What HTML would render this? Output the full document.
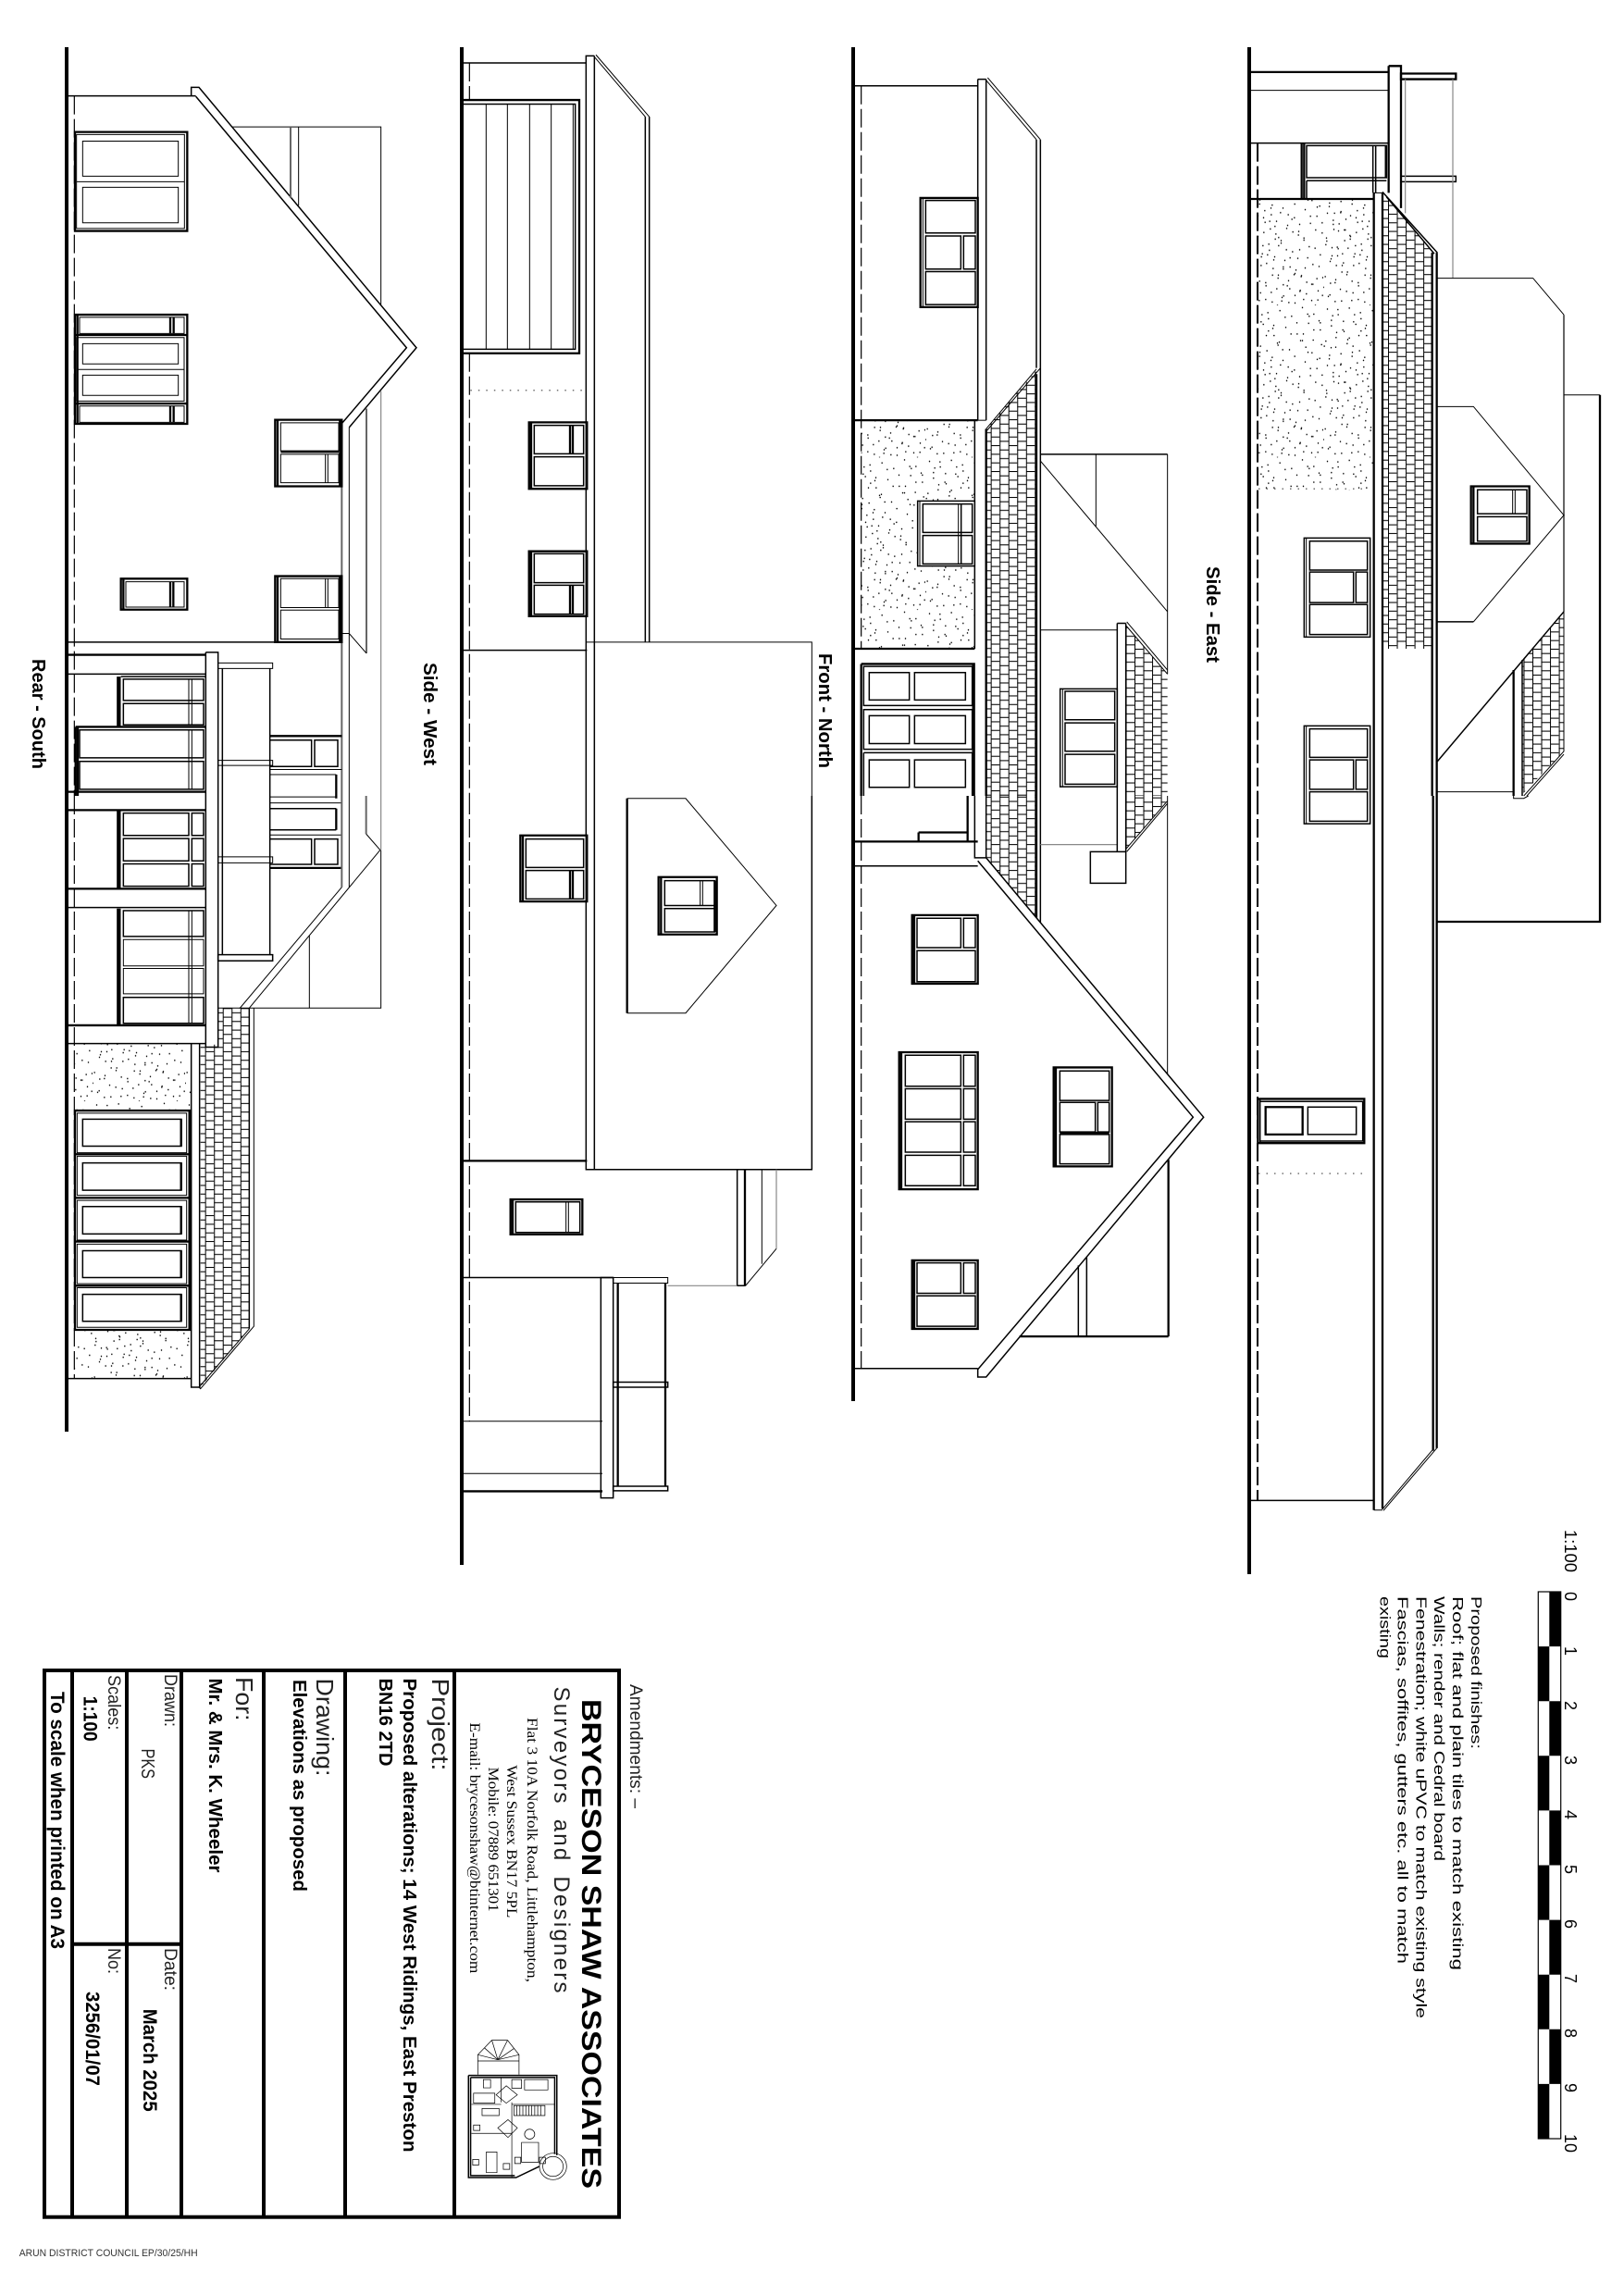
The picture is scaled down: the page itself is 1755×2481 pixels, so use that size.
<!DOCTYPE html>
<html><head><meta charset="utf-8"><title>Elevations as proposed</title>
<style>
html,body{margin:0;padding:0;background:#fff}
svg{display:block;position:absolute;left:0;top:0}
g.z path{fill:none;stroke:#000;stroke-width:1;vector-effect:non-scaling-stroke}
g.v path{stroke-width:.7}
g.z path.m{stroke-width:1.5}
g.z path.h{stroke-width:2.3}
g.z path.g{stroke:#666;stroke-width:2}
g.z path.l{stroke:#888;stroke-width:1.2}
g.z path.d{stroke-dasharray:20 5;stroke-width:1.2}
g.z path.dh{stroke-dasharray:20 5;stroke-width:2}
g.z path.o{stroke-dasharray:1.5 7;stroke-width:1.2;stroke:#444}
g.z path.s{fill:url(#st);stroke:none}
g.z path.w{fill:#fff}
text{font-family:"Liberation Sans",sans-serif;fill:#000}
.b{font-weight:bold}
.c{fill:#222}
.f{font-family:"Liberation Serif",serif}
</style></head><body>
<svg xmlns="http://www.w3.org/2000/svg" width="1755" height="2481" viewBox="0 0 1755 2481">
<defs>
<pattern id="b1" patternUnits="userSpaceOnUse" x="665" y="418" width="57.2" height="34"><rect x="0" y="0" width="3" height="34" fill="#000"/><rect x="28.6" y="0" width="3" height="34" fill="#000"/><rect x="0" y="0" width="28.6" height="1.9" fill="#000"/><rect x="0" y="17" width="28.6" height="1.9" fill="#000"/><rect x="28.6" y="8.5" width="28.6" height="1.9" fill="#000"/><rect x="28.6" y="25.5" width="28.6" height="1.9" fill="#000"/></pattern>
<pattern id="b2" href="#b1" x="512" y="10"/>
<pattern id="b3" href="#b1" x="978" y="20"/>
<pattern id="b4" href="#b1" x="510" y="30"/>
<pattern id="st" patternUnits="userSpaceOnUse" width="300" height="300"><path id="dots" fill="#000" stroke="#000" stroke-width=".8" d="M12 8h3v2h-3zM47 19h3v2h-3zM83 6h3v2h-3zM121 27h3v2h-3zM158 11h3v2h-3zM196 22h3v2h-3zM231 5h3v2h-3zM268 18h3v2h-3zM25 41h3v2h-3zM66 52h3v2h-3zM104 38h3v2h-3zM139 60h3v2h-3zM177 44h3v2h-3zM214 57h3v2h-3zM251 36h3v2h-3zM289 49h3v2h-3zM7 71h3v2h-3zM39 83h3v2h-3zM78 68h3v2h-3zM116 90h3v2h-3zM150 75h3v2h-3zM189 88h3v2h-3zM225 70h3v2h-3zM262 94h3v2h-3zM293 78h3v2h-3zM18 106h3v2h-3zM55 118h3v2h-3zM92 101h3v2h-3zM130 122h3v2h-3zM168 109h3v2h-3zM205 128h3v2h-3zM240 112h3v2h-3zM278 125h3v2h-3zM31 141h3v2h-3zM70 152h3v2h-3zM110 137h3v2h-3zM145 160h3v2h-3zM183 143h3v2h-3zM219 155h3v2h-3zM257 139h3v2h-3zM295 158h3v2h-3zM10 174h3v2h-3zM44 186h3v2h-3zM86 170h3v2h-3zM124 192h3v2h-3zM162 178h3v2h-3zM199 195h3v2h-3zM236 172h3v2h-3zM272 188h3v2h-3zM24 209h3v2h-3zM60 222h3v2h-3zM98 205h3v2h-3zM136 228h3v2h-3zM174 212h3v2h-3zM210 231h3v2h-3zM248 207h3v2h-3zM285 224h3v2h-3zM5 244h3v2h-3zM37 256h3v2h-3zM75 240h3v2h-3zM113 262h3v2h-3zM152 247h3v2h-3zM190 268h3v2h-3zM228 242h3v2h-3zM265 259h3v2h-3zM297 246h3v2h-3zM20 280h3v2h-3zM58 292h3v2h-3zM95 276h3v2h-3zM133 294h3v2h-3zM170 282h3v2h-3zM207 296h3v2h-3zM244 278h3v2h-3zM281 290h3v2h-3z"/><use href="#dots" transform="translate(17,13)"/><use href="#dots" transform="translate(-143,-79)"/><use href="#dots" transform="translate(157,221)"/><use href="#dots" transform="translate(-71,113)"/><use href="#dots" transform="translate(229,-187)"/></pattern>
</defs>
<rect width="1755" height="2481" fill="#fff"/>

<!-- ground bars -->
<rect x="70" y="51" width="4" height="1496" fill="#000"/>
<rect x="497" y="51" width="4" height="1640" fill="#000"/>
<rect x="920" y="51" width="4" height="1463" fill="#000"/>
<rect x="1348" y="51" width="4" height="1650" fill="#000"/>

<!-- Rear South upper -->
<g class="z" transform="translate(0,0) scale(.33333,.5485)">
<path class="m" d="M222 189H620M620 189V172H645L1350 685L1132 842M635 190L1318 685L1110 833M620 189H635"/>
<path class="d" d="M241 189V1568"/>
<path d="M752 250H1235V600M968 250V405"/><path class="g" d="M942 250V390M1188 805V1287M1108 833V1568"/>
<path class="l" d="M1235 770V1568"/>
<path d="M1188 1287L1132 1248H1108M1132 842V1568"/><path class="m" d="M222 1265H892"/>
<path class="h" d="M243 260H607V455H243Z"/><path d="M248 265H598V450H248ZM268 278H578V347H268ZM268 369H578V439H268ZM248 358H598"/>
<path class="h" d="M243 620H607V835H243ZM251 620V835M243 795H607M243 660H607M552 625V657M563 625V657M552 800V832M563 800V832"/>
<path d="M258 625H597V657H258ZM248 665H597V790H248ZM268 677H578V717H268ZM268 739H578V779H268ZM248 728H597M258 800H597V832H258Z"/>
<path class="h" d="M892 827H1108V958H892ZM900 827V958M1102 827V958M910 890H1098"/><path d="M910 833H1098V888H910ZM910 895H1098V951H910ZM1055 895V951M1063 895V951"/>
<path class="h" d="M392 1140H607V1201H392ZM400 1140V1201M552 1146V1196M562 1146V1196"/><path d="M408 1146H597V1196H408Z"/>
<path class="h" d="M892 1135H1108V1265H892ZM900 1135V1265M1102 1135V1265"/><path d="M910 1140H1098V1197H910ZM1055 1140V1197M1063 1140V1197M910 1202H1098V1259H910Z"/>
<path class="h" d="M222 1290H667"/><path class="m" d="M222 1328H667M667 1285H707V1568M667 1285V1568"/>
<path class="h" d="M382 1333V1430M388 1333V1430M245 1432H667M245 1432V1568M252 1432V1568M222 1560H667"/>
<path class="m" d="M392 1333H667M400 1338H660V1380H400ZM400 1386H660V1428H400ZM258 1438H660V1493H258ZM258 1500H660V1555H258Z"/><path d="M612 1338V1428M622 1338V1428M612 1438V1555M622 1438V1555"/>
<path d="M707 1306H884V1317H707ZM707 1498H884V1508H707Z"/><path class="m" d="M721 1317V1568M875 1317V1568"/>
<path class="h" d="M875 1450H1108"/><path class="m" d="M875 1458H1010V1510H875M1020 1458H1095V1510H1020Z"/><path d="M875 1516H1108"/><path class="h" d="M1090 1526V1568"/><path d="M875 1526H1090"/>
</g>

<!-- Rear South lower -->
<g class="z" transform="translate(0,860) scale(.33333,.5485)">
<path class="s" d="M242 488H618V620H242ZM242 1052H618V1148H242Z"/>
<path style="fill:url(#b1);stroke:none" d="M707 418H808V1050L650 1165V490H707Z"/>
<path class="d" d="M241 0V1147"/>
<path class="h" d="M222 28H667M222 183H667M222 452H667M382 28V183M388 28V183M382 222V450M388 222V450"/>
<path class="m" d="M222 220H667M222 488H667M222 1148H618M875 0V313M721 0V313"/>
<path class="m" d="M667 0V495H707V0M400 34H612V78H400ZM622 34H660V78H622ZM400 84H612V128H400ZM622 84H660V128H622ZM400 134H612V178H400ZM622 134H660V178H622Z"/>
<path class="m" d="M400 226H660V277H400ZM400 397H660V448H400Z"/><path d="M400 283H660V335H400ZM400 340H660V390H400ZM612 226V448M622 226V448"/>
<path d="M707 120H884V132H707Z"/><path class="m" d="M707 313H884V325H707Z"/>
<path d="M875 2H1090M875 14H1108M875 77H1108"/><path class="m" d="M875 25H1090M875 67H1090M875 85H1010V135H875M1020 85H1095V135H1020Z"/><path class="h" d="M1090 0V5M1090 25V67M875 142H1108"/>
<path class="g" d="M1108 0V180M1187 0V75"/><path d="M1132 0V180M1187 75L1233 107M1232 107L808 418M1108 180L778 418H808M1003 275V418"/>
<path class="l" d="M1235 0V107"/><path d="M1235 107V418H808M707 418H778"/>
<path class="m" d="M808 418V1050"/><path d="M823 418V1045L650 1168L645 1165M808 1050L645 1165"/>
<path class="m" d="M620 488V1165H650M647 488V1165"/>
<path class="h" d="M243 620H618V1052H243ZM614 620V1052M245 706H612M245 792H612M245 878H612M245 965H612"/>
<path d="M250 625H605V703H250ZM250 710H605V787H250ZM250 797H605V875H250ZM250 883H605V961H250ZM250 969H605V1047H250Z"/>
<path class="m" d="M268 637H588V690H268ZM268 723H588V777H268ZM268 809H588V863H268ZM268 896H588V949H268ZM268 982H588V1035H268Z"/>
<path class="h" d="M587 637V690M587 723V777M587 809V863M587 896V949M587 982V1035"/>
</g>

<!-- Side West upper -->
<g class="z" transform="translate(480,0) scale(.33333,.5485)">
<path class="d" d="M82 124V197M82 696V1568"/>
<path class="m" d="M63 124H460"/><path class="m" d="M460 1568V110H487M487 110V1568"/>
<path d="M492 108L665 230M487 112L652 230"/><path class="m" d="M652 230V1265M665 230V1265"/>
<path class="h" d="M63 197H438V696H63"/><path class="m" d="M63 205H425V688H63"/><path d="M136 205V688M205 205V688M277 205V688M347 205V688M418 205V688"/>
<path class="o" d="M85 769H465"/>
<path class="h" d="M275 832H463V963H275ZM282 832V963M408 838V894M417 838V894"/><path class="m" d="M292 838H452V894H292ZM292 900H452V957H292Z"/>
<path class="h" d="M275 1086H463V1214H275ZM282 1086V1214M408 1153V1210M417 1153V1210"/><path class="m" d="M292 1091H452V1148H292ZM292 1153H452V1210H292Z"/>
<path class="m" d="M63 1281H463"/><path d="M460 1265H1192V1568"/>
</g>

<!-- Side West lower -->
<g class="z" transform="translate(480,860) scale(.33333,.5485)">
<path class="d" d="M82 0V1232"/>
<path class="m" d="M460 0V736H1192V0M487 0V736"/>
<path class="h" d="M247 78H463V208H247ZM255 78V208M408 147V203M417 147V203"/><path class="m" d="M265 85H452V141H265ZM265 147H452V203H265Z"/>
<path class="h" d="M593 5V428"/><path d="M593 5H783L1077 216L783 428H593"/>
<path class="h" d="M695 160H884V273H695ZM703 160V273M877 167V268"/><path class="m" d="M715 167H877V216H715ZM715 222H877V268H715Z"/><path d="M830 167V216M838 167V216"/>
<path class="h" d="M63 719H463"/>
<path class="h" d="M215 795H448V864H215ZM222 795V864"/><path class="m" d="M232 800H440V860H232Z"/><path d="M395 800V860M403 800V860"/>
<path class="m" d="M950 736V965H977M63 949H548"/><path class="h" d="M975 736V965"/><path d="M1030 736V922"/>
<path class="l" d="M1077 736V892"/><path d="M1077 892L977 965M548 949H725V960H548Z"/><path class="l" d="M725 965H950"/>
<path class="m" d="M508 949H548V1383H508Z"/><path class="h" d="M563 960V1360M717 960V1360"/>
<path class="m" d="M548 1155H725V1165H548ZM548 1360H725V1369H548Z"/>
<path d="M63 1232H513M63 1335H513"/><path class="h" d="M63 1370H513"/>
</g>

<!-- Front North upper -->
<g class="z" transform="translate(900,0) scale(.33333,.5485)">
<path class="s" d="M92 828H460V1278H92Z"/>
<path style="fill:url(#b2);stroke:none" d="M497 845L660 730V1568H497Z"/>
<path style="fill:url(#b3);stroke:none" d="M950 1232L1085 1328V1568H950Z"/>
<path class="d" d="M92 169V1278"/>
<path class="m" d="M72 169H470M470 156H497M470 156V828M497 156V828M660 275V725"/>
<path d="M502 153L673 275M497 158L660 275M673 725L500 848M660 727L497 845"/><path class="m" d="M673 275V1568"/>
<path class="h" d="M72 828H470M497 845V1568M660 737V1568"/><path class="m" d="M460 828V1278"/><path d="M470 828H497"/>
<path class="h" d="M284 390H470V605H284Z"/><path d="M292 390V605"/><path class="m" d="M301 395H462V459H301ZM301 465H415V530H301ZM424 465H462V530H424ZM301 535H462V600H301Z"/>
<path class="w m" d="M275 987H460V1115H275Z"/><path d="M282 987V1115"/><path class="m" d="M292 993H452V1049H292ZM292 1055H452V1111H292Z"/><path d="M407 993V1111"/><path class="m" d="M416 993V1111"/>
<path class="h" d="M72 1278H460M92 1308H458V1568M92 1308V1568M455 1308V1568"/>
<path class="m" d="M100 1313H452V1390H100ZM100 1398H452V1476H100ZM100 1483H452V1568M100 1483V1568"/>
<path class="m" d="M118 1325H248V1379H118ZM265 1325H430V1379H265ZM118 1410H248V1465H118ZM265 1410H430V1465H265ZM118 1497H248V1551H118ZM265 1497H430V1551H265Z"/>
<path class="m" d="M673 895H1085"/><path d="M853 895V1037M1085 895V1205M673 908L1085 1205M673 1241H922M1085 1205V1328M953 1225L1085 1320M950 1232L1085 1328"/>
<path class="m" d="M922 1228H950M922 1228V1568M950 1228V1568"/>
<path class="m" d="M737 1357H922V1550H737ZM753 1362H914V1418H753ZM753 1424H914V1480H753ZM753 1486H914V1545H753Z"/><path d="M745 1357V1550"/>
</g>

<!-- Front North lower -->
<g class="z" transform="translate(900,860) scale(.33333,.5485)">
<path style="fill:url(#b2);stroke:none" d="M497 0V122L660 240V0Z"/>
<path style="fill:url(#b3);stroke:none" d="M950 0H1085V8L950 105Z"/>
<path class="d" d="M92 0V1128"/>
<path class="h" d="M437 0V90M278 72H437M278 72V90M72 90H470"/><path class="m" d="M72 138H470M460 0V122H497V0"/>
<path class="m" d="M497 122L1202 633L497 1145H470V1130L1168 633L470 128"/>
<path class="h" d="M660 0V240"/><path class="m" d="M673 0V250"/>
<path class="l" d="M673 96H922"/><path class="m" d="M922 0V110H950V0M835 110H950V172H835Z"/><path d="M953 110L1085 15M950 105L1085 10M1085 0V548"/>
<path class="h" d="M1088 717V1065M605 1065H1088"/><path class="m" d="M796 925V1065M823 908V1065"/>
<path class="h" d="M257 235H470V370H257ZM264 235V370"/><path class="m" d="M273 241H415V299H273ZM424 241H462V299H424ZM273 305H462V366H273Z"/>
<path class="h" d="M215 505H470V775H215ZM222 505V775"/><path class="m" d="M235 511H415V572H235ZM424 511H462V572H424ZM235 577H415V637H235ZM424 577H462V637H424ZM235 642H415V702H235ZM424 642H462V702H424ZM235 708H415V768H235ZM424 708H462V768H424Z"/>
<path class="h" d="M716 535H905V730H716ZM723 535V730M736 664H896"/><path class="m" d="M736 542H896V600H736ZM736 604H851V662H736ZM859 604H896V662H859ZM736 667H896V725H736Z"/>
<path class="h" d="M257 915H470V1050H257ZM264 915V1050"/><path class="m" d="M273 920H415V980H273ZM424 920H462V980H424ZM273 985H462V1045H273Z"/>
<path class="m" d="M72 1128H470"/>
</g>

<!-- Side East upper -->
<g class="z" transform="translate(1330,0) scale(.33333,.5485)">
<path class="s" d="M90 392H462V965H90Z"/>
<path style="fill:url(#b4);stroke:none" d="M495 380L653 497V1278H495Z"/>
<path style="fill:url(#b3);stroke:none" d="M945 1300L1080 1205V1480L945 1565Z"/>
<path class="dh" d="M87 282V1568"/>
<path class="h" d="M66 142H512M66 392H462M512 130H552V410M512 130V380"/><path d="M66 178H512"/><path class="m" d="M66 282H512"/>
<path class="h" d="M552 145H730V156H552ZM230 282V392M238 282V392M503 287V350"/><path class="m" d="M552 347H730V358H552ZM246 287H505V350H246ZM246 356H505M246 356V392M461 287V380M470 287V380"/>
<path class="l" d="M566 156V420M720 156V548"/>
<path class="h" d="M464 380V1568M492 380V1568M653 498V1568M668 498V1568"/><path d="M462 380H495"/><path class="m" d="M492 378L670 498M505 388L660 500"/>
<path class="o" d="M90 963H440"/>
<path class="m" d="M238 1060H452V1255H238ZM256 1066H443V1123H256ZM256 1127H398V1187H256ZM406 1127H443V1187H406ZM256 1191H443V1250H256Z"/><path d="M245 1060V1255"/>
<path class="m" d="M238 1568V1430H452V1568M256 1436H443V1492H256ZM256 1497H398V1555H256ZM406 1497H443V1555H406ZM256 1568V1560H443V1568"/><path d="M245 1430V1568"/>
<path d="M670 548H980L1080 620"/><path class="g" d="M1080 620V1205"/>
<path d="M670 801H787L1080 1015L787 1225"/><path class="m" d="M787 1225H670"/>
<path class="h" d="M779 958H968V1071H779ZM787 958V1071"/><path class="m" d="M800 965H960V1012H800ZM800 1018H960V1066H800Z"/><path d="M914 965V1012M922 965V1012"/>
<path d="M1080 778H1197"/><path class="h" d="M1197 778V1568M917 1320V1568"/>
<path class="m" d="M670 1500L1080 1205M945 1300V1568"/><path d="M1080 1205V1480L950 1568M1080 1486L960 1568M670 1560H917"/>
</g>

<!-- Side East lower -->
<g class="z" transform="translate(1330,860) scale(.33333,.5485)">
<path class="dh" d="M87 0V1388"/>
<path class="m" d="M238 0V55H452V0M256 0V50H443V0"/><path d="M245 0V55"/>
<path class="h" d="M464 0V1407M492 0V1405M656 0V1290M668 0V1285"/><path d="M464 1407H492M668 1285L495 1408M655 1288L492 1405"/>
<path class="h" d="M670 248H1197V0"/>
<path class="w h" d="M88 597H433V684H88Z"/><path class="m" d="M95 597V684M95 602H428V680H95"/><path class="h" d="M113 613H233V667H113Z"/><path class="m" d="M250 613H407V667H250Z"/>
<path class="o" d="M90 744H440"/>
<path class="m" d="M66 1388H464"/>
<path d="M917 0V5H950L965 0"/>
</g>

<!-- elevation labels -->
<text class="b" font-size="20" textLength="119" lengthAdjust="spacingAndGlyphs" transform="translate(35,712) rotate(90)">Rear - South</text>
<text class="b" font-size="20" textLength="111" lengthAdjust="spacingAndGlyphs" transform="translate(458,716) rotate(90)">Side - West</text>
<text class="b" font-size="20" textLength="124" lengthAdjust="spacingAndGlyphs" transform="translate(885,706) rotate(90)">Front - North</text>
<text class="b" font-size="20" textLength="104" lengthAdjust="spacingAndGlyphs" transform="translate(1304,612) rotate(90)">Side - East</text>

<!-- title block -->
<rect x="48" y="1805" width="621" height="590.7" fill="none" stroke="#000" stroke-width="4"/>
<g stroke="#000" stroke-width="4" fill="none"><path d="M78 1805V2395M137 1805V2395M196 1805V2395M285 1805V2395M373 1805V2395M491 1805V2395M78 2100.7H196"/></g>

<text class="c" font-size="19" textLength="134" lengthAdjust="spacingAndGlyphs" transform="translate(681,1820) rotate(90)">Amendments: –</text>
<text class="b" font-size="30" textLength="529" lengthAdjust="spacingAndGlyphs" transform="translate(629,1836) rotate(90)">BRYCESON SHAW ASSOCIATES</text>
<text class="c" font-size="24" textLength="331" lengthAdjust="spacing" word-spacing="6" transform="translate(599,1822.5) rotate(90)">Surveyors and Designers</text>
<text class="f" font-size="16" textLength="286" lengthAdjust="spacingAndGlyphs" transform="translate(570,1856) rotate(90)">Flat 3 10A Norfolk Road, Littlehampton,</text>
<text class="f" font-size="16" textLength="165" lengthAdjust="spacingAndGlyphs" transform="translate(548,1907.4) rotate(90)">West Sussex BN17 5PL</text>
<text class="f" font-size="16" textLength="156" lengthAdjust="spacingAndGlyphs" transform="translate(528,1909.6) rotate(90)">Mobile: 07889 651301</text>
<text class="f" font-size="16" textLength="271" lengthAdjust="spacingAndGlyphs" transform="translate(508,1861.4) rotate(90)">E-mail: brycesonshaw@btinternet.com</text>
<text class="c" font-size="26" textLength="100" lengthAdjust="spacingAndGlyphs" transform="translate(467,1813.5) rotate(90)">Project:</text>
<text class="b" font-size="20" textLength="512" lengthAdjust="spacingAndGlyphs" transform="translate(436,1813.5) rotate(90)">Proposed alterations; 14 West Ridings, East Preston</text>
<text class="b" font-size="20" textLength="95" lengthAdjust="spacingAndGlyphs" transform="translate(410,1813.5) rotate(90)">BN16 2TD</text>
<text class="c" font-size="26" textLength="106" lengthAdjust="spacingAndGlyphs" transform="translate(342,1813.5) rotate(90)">Drawing:</text>
<text class="b" font-size="20" textLength="229" lengthAdjust="spacingAndGlyphs" transform="translate(317,1815) rotate(90)">Elevations as proposed</text>
<text class="c" font-size="26" textLength="47.6" lengthAdjust="spacingAndGlyphs" transform="translate(255,1812) rotate(90)">For:</text>
<text class="b" font-size="20" textLength="210" lengthAdjust="spacingAndGlyphs" transform="translate(226,1813.5) rotate(90)">Mr. &amp; Mrs. K. Wheeler</text>
<text class="c" font-size="19" textLength="57" lengthAdjust="spacingAndGlyphs" transform="translate(178,1809) rotate(90)">Drawn:</text>
<text class="c" font-size="19" textLength="46" lengthAdjust="spacingAndGlyphs" transform="translate(178,2105) rotate(90)">Date:</text>
<text class="c" font-size="20" textLength="32.5" lengthAdjust="spacingAndGlyphs" transform="translate(153,1889.5) rotate(90)">PKS</text>
<text class="b" font-size="21" textLength="111" lengthAdjust="spacingAndGlyphs" transform="translate(155,2170.7) rotate(90)">March 2025</text>
<text class="c" font-size="19" textLength="59.4" lengthAdjust="spacingAndGlyphs" transform="translate(117,1810) rotate(90)">Scales:</text>
<text class="c" font-size="19" textLength="28" lengthAdjust="spacingAndGlyphs" transform="translate(117,2105) rotate(90)">No:</text>
<text class="b" font-size="21" textLength="49" lengthAdjust="spacingAndGlyphs" transform="translate(90.5,1832.7) rotate(90)">1:100</text>
<text class="b" font-size="21" textLength="102" lengthAdjust="spacingAndGlyphs" transform="translate(93,2152) rotate(90)">3256/01/07</text>
<text class="b" font-size="21" textLength="278" lengthAdjust="spacingAndGlyphs" transform="translate(55,1828) rotate(90)">To scale when printed on A3</text>
<text font-size="11" style="fill:#333" textLength="193" lengthAdjust="spacingAndGlyphs" x="20.7" y="2438">ARUN DISTRICT COUNCIL EP/30/25/HH</text>

<!-- logo plan -->
<g class="z v" transform="translate(0,1780) scale(.459,.447)">
<path class="m" d="M1103 1035H1311V1228M1270 1255L1215 1282H1103V1035M1108 1040H1306V1225M1108 1040V1277H1212"/>
<path d="M1125 1033V985L1158 950H1195L1222 985V1033M1125 1000H1222M1172 997L1125 985M1172 997L1140 968M1172 997L1158 950M1172 997L1195 950M1172 997L1210 970M1172 997L1222 985"/>
<path d="M1110 1105H1180M1110 1175H1205V1282M1205 1105H1305M1180 1040V1100M1205 1100V1190"/>
<path d="M1210 1108H1283V1132H1210ZM1217 1108V1132M1224 1108V1132M1231 1108V1132M1238 1108V1132M1245 1108V1132M1252 1108V1132M1259 1108V1132M1266 1108V1132M1273 1108V1132"/>
<path d="M1145 1220H1170V1270H1145ZM1228 1197H1268V1245H1228ZM1235 1045H1290V1070H1235ZM1115 1078H1165V1102H1115ZM1138 1045H1155V1065H1138ZM1205 1045H1228V1066H1205ZM1135 1115H1175V1132H1135ZM1115 1155H1130V1168H1115ZM1113 1238H1127V1252H1113ZM1185 1248H1200V1262H1185ZM1212 1233H1226V1248H1212ZM1270 1233H1284V1248H1270Z"/>
<path d="M1168 1082L1192 1060L1218 1082L1192 1102ZM1172 1162L1196 1142L1218 1162L1196 1185Z"/>
<path d="M1247 1177m-12 0a12 12 0 1 0 24 0a12 12 0 1 0 -24 0M1302 1255m-32 0a32 32 0 1 0 64 0a32 32 0 1 0 -64 0M1302 1255m-24 0a24 24 0 1 0 48 0a24 24 0 1 0 -48 0"/>
</g>

<!-- scale bar -->
<rect x="1662.3" y="1720" width="24.4" height="591" fill="#fff" stroke="#000" stroke-width="1.2"/>
<path fill="#000" d="M1674.3 1720h12.4v59.1h-12.4zM1662.3 1779.1h12v59.1h-12zM1674.3 1838.2h12.4v59.1h-12.4zM1662.3 1897.3h12v59.1h-12zM1674.3 1956.4h12.4v59.1h-12.4zM1662.3 2015.5h12v59.1h-12zM1674.3 2074.6h12.4v59.1h-12.4zM1662.3 2133.7h12v59.1h-12zM1674.3 2192.8h12.4v59.1h-12.4zM1662.3 2251.9h12v59.1h-12z"/>
<g font-size="18">
<text transform="translate(1691,1653) rotate(90)" textLength="46" lengthAdjust="spacingAndGlyphs">1:100</text>
<text transform="translate(1691,1720) rotate(90)">0</text>
<text transform="translate(1691,1779) rotate(90)">1</text>
<text transform="translate(1691,1838) rotate(90)">2</text>
<text transform="translate(1691,1897) rotate(90)">3</text>
<text transform="translate(1691,1956) rotate(90)">4</text>
<text transform="translate(1691,2015) rotate(90)">5</text>
<text transform="translate(1691,2074) rotate(90)">6</text>
<text transform="translate(1691,2133) rotate(90)">7</text>
<text transform="translate(1691,2192) rotate(90)">8</text>
<text transform="translate(1691,2251) rotate(90)">9</text>
<text transform="translate(1691,2306) rotate(90)">10</text>
</g>

<!-- finishes -->
<g font-size="16">
<text transform="translate(1590,1725) rotate(90)" textLength="165" lengthAdjust="spacingAndGlyphs">Proposed finishes:</text>
<text transform="translate(1570,1725) rotate(90)" textLength="404" lengthAdjust="spacingAndGlyphs">Roof; flat and plain tiles to match existing</text>
<text transform="translate(1550,1725) rotate(90)" textLength="286" lengthAdjust="spacingAndGlyphs">Walls; render and Cedral board</text>
<text transform="translate(1530.7,1725) rotate(90)" textLength="456" lengthAdjust="spacingAndGlyphs">Fenestration; white uPVC to match existing style</text>
<text transform="translate(1510.7,1725) rotate(90)" textLength="397" lengthAdjust="spacingAndGlyphs">Fascias, soffites, gutters etc. all to match</text>
<text transform="translate(1491.7,1725) rotate(90)" textLength="67" lengthAdjust="spacingAndGlyphs">existing</text>
</g>
</svg>
</body></html>
